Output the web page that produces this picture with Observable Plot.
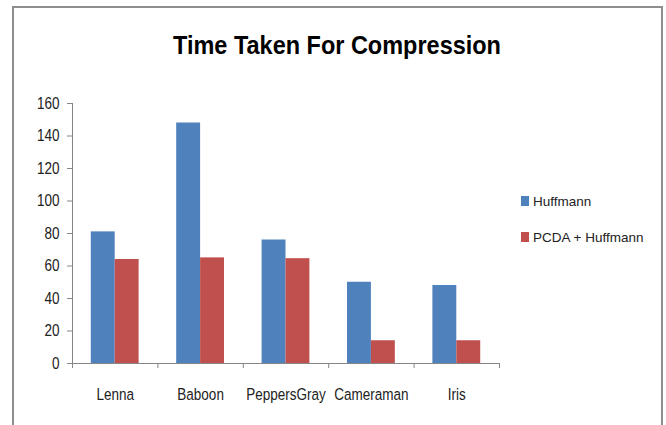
<!DOCTYPE html>
<html>
<head>
<meta charset="utf-8">
<script src="https://cdn.jsdelivr.net/npm/d3@7"></script>
<script src="https://cdn.jsdelivr.net/npm/@observablehq/plot@0.6"></script>
<style>
  html, body { margin: 0; padding: 0; background: #fff; }
  #page { position: relative; width: 666px; height: 425px; overflow: hidden; background: #fff; }
  #frame { position: absolute; left: 12px; top: 6px; width: 651px; height: 440px;
           border: 2px solid #8e8e8e; box-sizing: border-box; pointer-events: none; }
  #title { position: absolute; left: 0; width: 674px; top: 30px; text-align: center;
           font-family: "Liberation Sans", Arial, sans-serif;
           font-weight: bold; font-size: 26.5px; line-height: 30px; color: #000;
           transform: scaleX(0.886); transform-origin: 337px 0; }
  #chart { position: absolute; left: 0; top: 85px; }
  #legend { position: absolute; left: 521px; top: 192px;
            font-family: "Liberation Sans", Arial, sans-serif; font-size: 13.5px; color: #222; }
  .item { display: flex; align-items: center; height: 18px; margin-bottom: 18px; }
  .sw { width: 8px; height: 10px; margin-right: 4px; }
</style>
</head>
<body>
<div id="page">
  <div id="title">Time Taken For Compression</div>
  <div id="chart"></div>
  <div id="legend"></div>
  <div id="frame"></div>
</div>
<script>
const categories = ["Lenna", "Baboon", "PeppersGray", "Cameraman", "Iris"];
const huffmann = [81, 148, 76, 50, 48];
const pcdaHuffmann = [64, 65, 64.5, 14, 14];
const seriesNames = ["Huffmann", "PCDA + Huffmann"];
const seriesColors = ["#4f81bd", "#c0504d"];
const yTicks = [0, 20, 40, 60, 80, 100, 120, 140, 160];

const barFrac = 0.28; // bar width as fraction of category band
const rows = [];
categories.forEach((c, i) => {
  rows.push({i, cat: c, series: seriesNames[0], value: huffmann[i], x1: i + 0.5 - barFrac, x2: i + 0.5});
  rows.push({i, cat: c, series: seriesNames[1], value: pcdaHuffmann[i], x1: i + 0.5, x2: i + 0.5 + barFrac});
});
const centers = categories.map((c, i) => i + 0.5);
const bounds = d3.range(categories.length + 1);
const axisGray = "#868686";

const chart = Plot.plot({
  width: 666,
  height: 340,
  marginLeft: 72,
  marginRight: 167,
  marginTop: 18,
  marginBottom: 62,
  style: {fontFamily: "'Liberation Sans', Arial, sans-serif", fontSize: "16.5px", background: "none"},
  x: {domain: [0, categories.length], axis: null},
  y: {domain: [0, 160], axis: null},
  color: {domain: seriesNames, range: seriesColors},
  marks: [
    Plot.rectY(rows, {x1: "x1", x2: "x2", y: "value", fill: "series"}),
    Plot.ruleX([0], {y1: 0, y2: 160, stroke: axisGray}),
    Plot.ruleY([0], {x1: 0, x2: categories.length, stroke: axisGray}),
    Plot.axisY({ticks: yTicks, tickSize: 5, tickPadding: 8, label: null, color: "#222", stroke: axisGray, fontSize: 16.5}),
    Plot.axisX({ticks: bounds, tickSize: 5, tickFormat: () => "", label: null, stroke: axisGray}),
    Plot.axisX({ticks: centers, tickSize: 0, tickPadding: 25, label: null, tickFormat: d => categories[Math.floor(d)], color: "#222", fontSize: 16.5})
  ]
});

// condense tick label glyphs horizontally around their anchor (Calibri-like narrow look)
chart.querySelectorAll("g[aria-label$='tick label'] text").forEach(t => {
  const tr = t.getAttribute("transform");
  if (tr) t.setAttribute("transform", tr + " scale(0.82,1)");
});
document.getElementById("chart").appendChild(chart);

const legend = d3.select("#legend");
seriesNames.forEach((s, k) => {
  const it = legend.append("div").attr("class", "item");
  it.append("div").attr("class", "sw").style("background", seriesColors[k]);
  it.append("span").text(s);
});
</script>
</body>
</html>
